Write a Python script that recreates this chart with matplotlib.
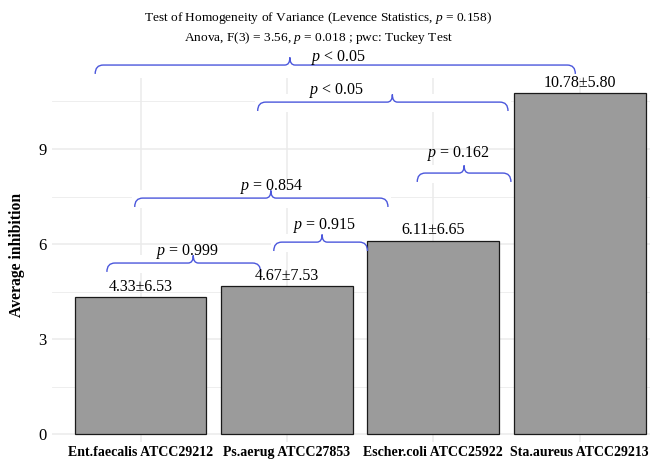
import matplotlib.pyplot as plt
import numpy as np
from matplotlib.path import Path
from matplotlib.patches import PathPatch, Rectangle

plt.rcParams['font.family'] = 'Liberation Serif'
plt.rcParams['mathtext.fontset'] = 'custom'
plt.rcParams['mathtext.rm'] = 'Liberation Serif'
plt.rcParams['mathtext.it'] = 'Liberation Serif:italic'

groups = ["Ent.faecalis ATCC29212", "Ps.aerug ATCC27853",
          "Escher.coli ATCC25922", "Sta.aureus ATCC29213"]
means = [4.33, 4.67, 6.11, 10.78]
sds = [6.53, 7.53, 6.65, 5.80]

# pairwise comparison braces
p_labels = ["= 0.999", "= 0.915", "= 0.854", "= 0.162", "< 0.05", "< 0.05"]
brace_x1 = [-0.23, 0.91, -0.04, 1.89, 0.80, -0.31]
brace_x2 = [0.82, 1.55, 1.69, 2.53, 2.51, 2.97]
brace_tip = [0.36, 1.24, 0.89, 2.21, 1.72, 1.02]
brace_y = [5.40, 6.06, 7.45, 8.24, 10.48, 11.65]
label_x = [0.32, 1.26, 0.90, 2.17, 1.34, 1.35]
label_y = [5.75, 6.60, 7.83, 8.87, 10.86, 11.90]

title1 = r"Test of Homogeneity of Variance (Levence Statistics, $p$ = 0.158)"
title2 = r"Anova, F(3) = 3.56, $p$ = 0.018 ; pwc: Tuckey Test"

brace_col = "#4b57dc"

fig = plt.figure(figsize=(6.5, 4.59), dpi=100)
ax = fig.add_axes([0.08, 0.037, 0.92, 0.793])

x = np.arange(len(groups))
ax.bar(x, means, width=0.9, color="#9b9b9b", edgecolor="#1a1a1a",
       linewidth=0.9, zorder=3)
for xi, m, s in zip(x, means, sds):
    ax.annotate(f"{m:.2f}\u00b1{s:.2f}", (xi, m), xytext=(0, 1.5),
                textcoords="offset points", ha="center", va="bottom",
                fontsize=11.5, zorder=5)


def brace(x1, x2, xt, y, h=0.28, ht=0.24, r=0.055, rt=0.035):
    verts = [(x1, y - h), (x1, y), (x1 + r, y),
             (xt - rt, y), (xt, y), (xt, y + ht),
             (xt, y), (xt + rt, y),
             (x2 - r, y), (x2, y), (x2, y - h)]
    codes = [Path.MOVETO, Path.CURVE3, Path.CURVE3,
             Path.LINETO, Path.CURVE3, Path.CURVE3,
             Path.CURVE3, Path.CURVE3,
             Path.LINETO, Path.CURVE3, Path.CURVE3]
    return Path(verts, codes)


for i in range(len(p_labels)):
    x1, x2, xt, y = brace_x1[i], brace_x2[i], brace_tip[i], brace_y[i]
    ax.add_patch(Rectangle((x1 - 0.02, y - 0.3), x2 - x1 + 0.04, 0.55,
                           facecolor="white", edgecolor="none", zorder=2,
                           clip_on=False))
    ax.add_patch(PathPatch(brace(x1, x2, xt, y), facecolor="none",
                           edgecolor=brace_col, linewidth=1.0, zorder=4,
                           clip_on=False))
    ax.text(label_x[i], label_y[i], "$p$ " + p_labels[i], ha="center",
            va="center", fontsize=11.5, zorder=5, clip_on=False)

ax.set_xlim(-0.605, 3.48)
ax.set_ylim(-0.25, 11.24)
ax.set_xticks(x)
ax.set_xticklabels(groups, fontweight="bold", fontsize=10)
ax.set_yticks([0, 3, 6, 9])
ax.set_yticks([1.5, 4.5, 7.5, 10.5], minor=True)
ax.tick_params(axis="both", which="both", length=0, labelsize=12)
ax.tick_params(axis="x", pad=3, labelsize=10)
ax.tick_params(axis="y", pad=4)
ax.grid(True, which="major", color="#ebebeb", linewidth=1.1, zorder=0)
ax.grid(True, which="minor", axis="y", color="#ebebeb", linewidth=0.6, zorder=0)
ax.set_axisbelow(True)
for sp in ax.spines.values():
    sp.set_visible(False)

ax.set_ylabel("Average inhibition", fontweight="bold", fontsize=11.3)
ax.yaxis.set_label_coords(-0.045, 0.514)

fig.text(0.49, 0.961, title1, ha="center", va="center", fontsize=9.6)
fig.text(0.49, 0.917, title2, ha="center", va="center", fontsize=9.6)

fig.savefig("out.png", dpi=100)
